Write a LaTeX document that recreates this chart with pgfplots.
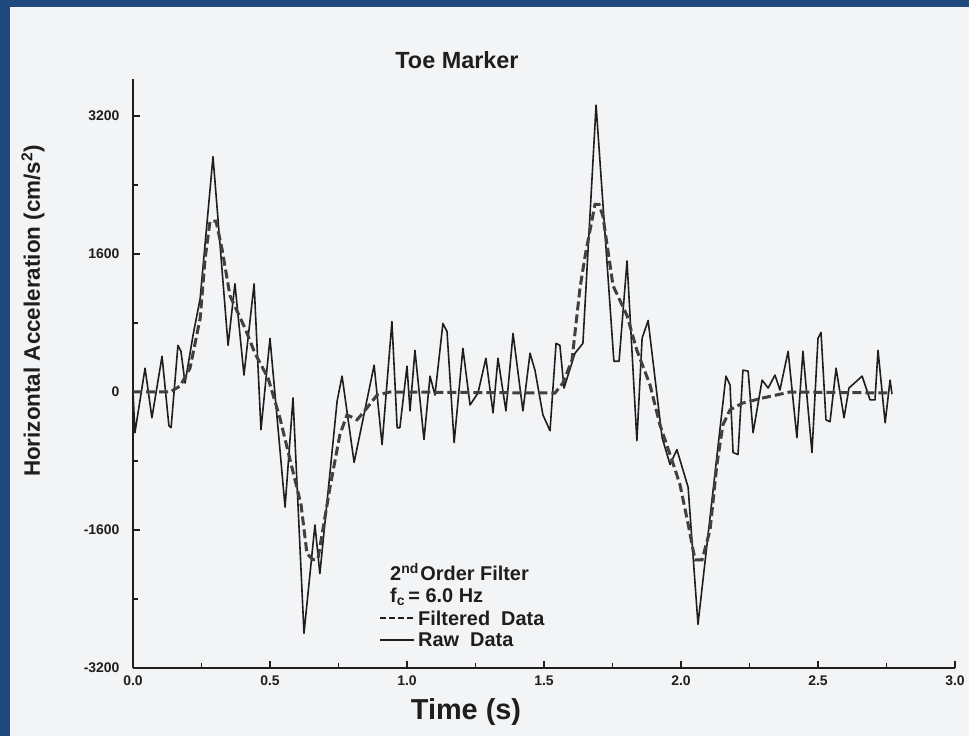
\documentclass[border=0pt]{standalone}
\usepackage{pgfplots}
\pgfplotsset{compat=1.18}
\usepackage{fontspec}
\setmainfont{Liberation Sans}

\definecolor{frame}{HTML}{1F497D}
\definecolor{paper}{HTML}{F2F4F6}
\definecolor{ink}{HTML}{1E1E1E}

% raw accelerometer samples, t (s) vs cm/s^2
\pgfplotstableread{
t v
0.000 0
0.007 -472
0.044 276
0.069 -299
0.106 414
0.131 -391
0.139 -414
0.164 541
0.175 472
0.190 104
0.219 656
0.245 1082
0.292 2728
0.347 541
0.372 1255
0.405 196
0.442 1255
0.467 -437
0.500 622
0.555 -1335
0.584 -69
0.624 -2797
0.664 -1542
0.682 -2106
0.745 -104
0.763 184
0.807 -817
0.880 311
0.909 -610
0.945 817
0.964 -414
0.974 -414
1.000 299
1.011 -219
1.029 483
1.062 -552
1.084 184
1.102 -35
1.131 794
1.146 702
1.172 -587
1.204 506
1.230 -150
1.259 -12
1.288 391
1.314 -242
1.332 391
1.361 -219
1.387 679
1.423 -219
1.449 449
1.467 253
1.496 -265
1.522 -449
1.544 564
1.558 541
1.573 46
1.613 449
1.642 564
1.690 3326
1.755 357
1.774 357
1.803 1519
1.839 -564
1.858 622
1.880 829
1.931 -529
1.960 -840
1.985 -668
2.026 -1105
2.062 -2693
2.164 184
2.179 81
2.190 -702
2.208 -725
2.226 253
2.245 242
2.263 -472
2.296 138
2.318 46
2.343 196
2.361 23
2.391 472
2.423 -529
2.445 472
2.478 -702
2.500 622
2.511 691
2.529 -322
2.544 -345
2.566 276
2.595 -299
2.613 46
2.661 184
2.690 -92
2.708 -92
2.719 483
2.745 -357
2.763 138
2.770 -23
}\rawdata

% 2nd order low-pass, fc = 6 Hz
\pgfplotstableread{
t v
0.000 0
0.135 0
0.172 69
0.208 276
0.245 852
0.263 1542
0.281 1980
0.303 1980
0.325 1657
0.354 1116
0.409 737
0.445 449
0.493 161
0.536 -299
0.573 -783
0.613 -1301
0.635 -1876
0.657 -1945
0.675 -1934
0.719 -1105
0.755 -495
0.781 -265
0.818 -322
0.854 -184
0.891 -35
0.938 0
1.540 -12
1.569 104
1.602 368
1.631 1197
1.650 1577
1.686 2175
1.701 2175
1.715 2037
1.752 1232
1.803 886
1.839 483
1.887 81
1.923 -380
1.960 -725
1.996 -1070
2.026 -1531
2.051 -1945
2.077 -1945
2.106 -1600
2.131 -840
2.153 -380
2.179 -207
2.226 -127
2.299 -69
2.398 0
2.770 -12
}\filtdata

\begin{document}
\begin{tikzpicture}[font=\bfseries, text=ink]
\fill[frame] (0,0) rectangle (969bp,736bp);
\fill[paper] (10bp,0) rectangle (969bp,729bp);

\begin{axis}[
    at={(133bp,68bp)}, anchor=south west,
    scale only axis,
    width=822bp, height=589bp,
    xmin=0, xmax=3.0,
    ymin=-3200, ymax=3629,
    axis x line*=bottom, axis y line*=left,
    axis line style={line width=2bp, ink, -},
    tick align=inside,
    major tick length=7bp, minor tick length=5bp,
    tick style={line width=1.2bp, ink},
    xtick={0,0.5,...,3.0},
    minor xtick={0.25,0.75,...,2.75},
    ytick={-3200,-1600,0,1600,3200},
    minor ytick={-2400,-800,800,2400},
    xticklabel style={font=\bfseries\fontsize{14}{14}\selectfont, yshift=-4bp,
        /pgf/number format/.cd, fixed, fixed zerofill, precision=1, assume math mode=true},
    yticklabel style={font=\bfseries\fontsize{14}{14}\selectfont, xshift=-10bp,
        /pgf/number format/.cd, fixed, assume math mode=true, 1000 sep={}},
    clip=false,
]
\addplot[ink, line width=1.6bp, line join=round] table[x=t, y=v] {\rawdata};
\addplot[ink!85, line width=3bp, dash pattern=on 9bp off 4bp] table[x=t, y=v] {\filtdata};
\end{axis}

\node[font=\bfseries\fontsize{23.5}{23.5}\selectfont] at (457bp,676bp) {Toe Marker};
\node[font=\bfseries\fontsize{29}{29}\selectfont] at (466bp,24bp) {Time (s)};
\node[font=\bfseries\fontsize{22.5}{22.5}\selectfont, rotate=90] at (33bp,425bp)
    {Horizontal Acceleration (cm/s\textsuperscript{2})};

\begin{scope}[every node/.style={anchor=west, inner sep=0pt,
    font=\bfseries\fontsize{20}{20}\selectfont}]
\node at (390bp,164bp) {2\textsuperscript{nd}\kern1.5bp Order Filter};
\node at (390bp,139bp) {f\textsubscript{c}\,= 6.0 Hz};
\node at (418bp,118bp) {Filtered\ \ Data};
\node at (418bp,96bp) {Raw\ \ Data};
\draw[ink, line width=2.2bp, dash pattern=on 6bp off 3bp] (380bp,118bp) -- (414bp,118bp);
\draw[ink, line width=1.6bp] (380bp,96bp) -- (414bp,96bp);
\end{scope}

\pgfresetboundingbox
\path[use as bounding box] (0,0) rectangle (969bp,736bp);
\end{tikzpicture}
\end{document}
